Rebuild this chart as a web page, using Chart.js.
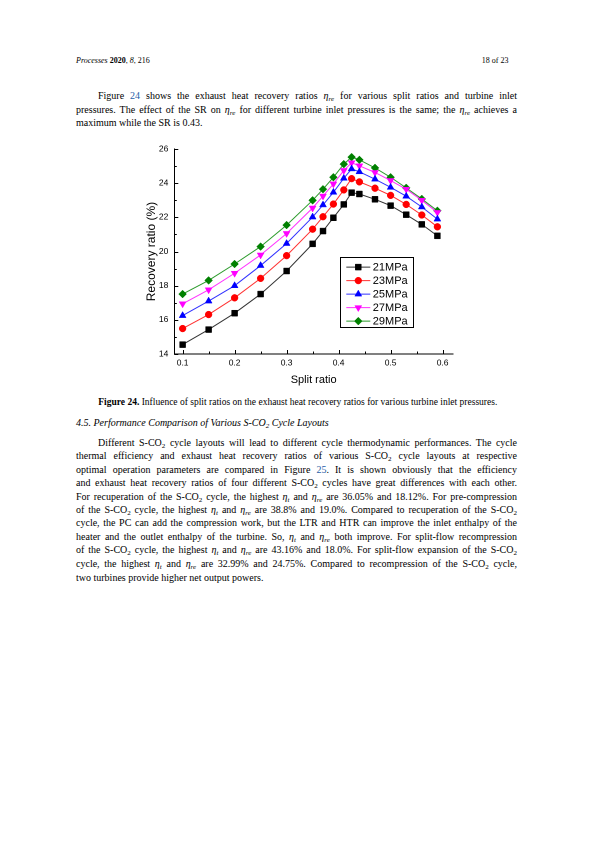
<!DOCTYPE html>
<html>
<head>
<meta charset="utf-8">
<script src="https://cdn.jsdelivr.net/npm/chart.js@4.4.1/dist/chart.umd.min.js"></script>
<style>
  html, body { margin: 0; padding: 0; background: #fff; }
  #page { position: relative; width: 595px; height: 842px; overflow: hidden; background: #fff; color: #000;
          font-family: "Liberation Serif", "Times New Roman", serif; }
  .ln { position: absolute; white-space: nowrap; font-size: 10px; line-height: 13px; }
  .j { text-align: justify; text-align-last: justify; }
  .hdr { position: absolute; font-size: 8px; line-height: 10px; white-space: nowrap; }
  .lk { color: #1f5ea8; }
  sub { font-size: 0.7em; line-height: 0; vertical-align: -0.25em; }
  i sub { font-style: italic; }
  #chartBox { position: absolute; left: 130px; top: 138px; width: 340px; height: 252px; }
</style>
</head>
<body>
<div id="page">
  <div class="hdr" style="left:76px; top:56px;"><i>Processes</i> <b>2020</b>, <i>8</i>, 216</div>
  <div class="hdr" style="left:460px; width:48.5px; top:56px; text-align:right;">18 of 23</div>

  <div class="ln j" style="left:98px; width:419px; top:89px;">Figure <span class="lk">24</span> shows the exhaust heat recovery ratios <i>η<sub>re</sub></i> for various split ratios and turbine inlet</div>
  <div class="ln j" style="left:76px; width:441px; top:102.5px;">pressures. The effect of the SR on <i>η<sub>re</sub></i> for different turbine inlet pressures is the same; the <i>η<sub>re</sub></i> achieves a</div>
  <div class="ln" style="left:76px; top:116px;">maximum while the SR is 0.43.</div>

  <div id="chartBox"><canvas id="c"></canvas></div>

  <div class="ln j" style="left:98.3px; width:399px; top:396px; font-size:9.5px;"><b>Figure 24.</b> Influence of split ratios on the exhaust heat recovery ratios for various turbine inlet pressures.</div>
  <div class="ln" style="left:76px; top:415.5px;"><i>4.5. Performance Comparison of Various S-CO<sub>2</sub> Cycle Layouts</i></div>

  <div class="ln j" style="left:98px; width:419px; top:436px;">Different S-CO<sub>2</sub> cycle layouts will lead to different cycle thermodynamic performances. The cycle</div>
  <div class="ln j" style="left:76px; width:441px; top:449.4px;">thermal efficiency and exhaust heat recovery ratios of various S-CO<sub>2</sub> cycle layouts at respective</div>
  <div class="ln j" style="left:76px; width:441px; top:462.8px;">optimal operation parameters are compared in Figure <span class="lk">25</span>. It is shown obviously that the efficiency</div>
  <div class="ln j" style="left:76px; width:441px; top:476.2px;">and exhaust heat recovery ratios of four different S-CO<sub>2</sub> cycles have great differences with each other.</div>
  <div class="ln j" style="left:76px; width:441px; top:489.6px;">For recuperation of the S-CO<sub>2</sub> cycle, the highest <i>η<sub>t</sub></i> and <i>η<sub>re</sub></i> are 36.05% and 18.12%. For pre-compression</div>
  <div class="ln j" style="left:76px; width:441px; top:503px;">of the S-CO<sub>2</sub> cycle, the highest <i>η<sub>t</sub></i> and <i>η<sub>re</sub></i> are 38.8% and 19.0%. Compared to recuperation of the S-CO<sub>2</sub></div>
  <div class="ln j" style="left:76px; width:441px; top:516.4px;">cycle, the PC can add the compression work, but the LTR and HTR can improve the inlet enthalpy of the</div>
  <div class="ln j" style="left:76px; width:441px; top:529.8px;">heater and the outlet enthalpy of the turbine. So, <i>η<sub>t</sub></i> and <i>η<sub>re</sub></i> both improve. For split-flow recompression</div>
  <div class="ln j" style="left:76px; width:441px; top:543.2px;">of the S-CO<sub>2</sub> cycle, the highest <i>η<sub>t</sub></i> and <i>η<sub>re</sub></i> are 43.16% and 18.0%. For split-flow expansion of the S-CO<sub>2</sub></div>
  <div class="ln j" style="left:76px; width:441px; top:556.6px;">cycle, the highest <i>η<sub>t</sub></i> and <i>η<sub>re</sub></i> are 32.99% and 24.75%. Compared to recompression of the S-CO<sub>2</sub> cycle,</div>
  <div class="ln" style="left:76px; top:570.6px;">two turbines provide higher net output powers.</div>
</div>

<script>
// ---- data ----
const splitRatios = [0.1, 0.15, 0.2, 0.25, 0.3, 0.35, 0.37, 0.39, 0.41, 0.425, 0.44, 0.47, 0.5, 0.53, 0.56, 0.59];
const seriesNames = ['21MPa', '23MPa', '25MPa', '27MPa', '29MPa'];
const rec21 = [14.55, 15.43, 16.39, 17.51, 18.86, 20.45, 21.20, 21.98, 22.76, 23.45, 23.37, 23.06, 22.69, 22.16, 21.59, 20.92];
const rec23 = [15.49, 16.31, 17.29, 18.43, 19.76, 21.31, 22.04, 22.78, 23.61, 24.27, 24.08, 23.71, 23.29, 22.76, 22.14, 21.45];
const rec25 = [16.25, 17.10, 18.00, 19.18, 20.47, 22.02, 22.73, 23.47, 24.29, 24.84, 24.67, 24.24, 23.76, 23.24, 22.61, 21.90];
const rec27 = [16.94, 17.76, 18.73, 19.80, 21.06, 22.55, 23.25, 23.96, 24.75, 25.20, 25.02, 24.63, 24.16, 23.65, 23.00, 22.29];
const rec29 = [17.51, 18.31, 19.27, 20.29, 21.55, 23.00, 23.65, 24.35, 25.12, 25.53, 25.37, 24.90, 24.35, 23.73, 23.08, 22.39];
const xMajorTicks = [0.1, 0.2, 0.3, 0.4, 0.5, 0.6];
const xMinorTicks = [0.15, 0.25, 0.35, 0.45, 0.55];
const yMajorTicks = [14, 16, 18, 20, 22, 24, 26];
const yMinorTicks = [15, 17, 19, 21, 23, 25];
const xTitle = 'Split ratio';
const yTitle = 'Recovery ratio (%)';

// ---- styles ----
const seriesValues = [rec21, rec23, rec25, rec27, rec29];
const colors = ['#000000', '#ff0000', '#0000ff', '#ff00ff', '#008000'];
const lineColors = ['#333333', '#ff3030', '#3030ff', '#ff30ff', '#2a9a2a'];
const pStyles = ['rect', 'circle', 'triangle', 'triangle', 'rectRot'];
const pRot = [0, 0, 0, 180, 0];
const pRad = [4.2, 3.4, 4.0, 4.0, 3.9];
const sansFont = '"Liberation Sans", Arial, sans-serif';

const datasets = seriesNames.map((name, i) => ({
  label: name,
  data: splitRatios.map((x, k) => ({ x: x, y: seriesValues[i][k] })),
  borderColor: lineColors[i],
  backgroundColor: colors[i],
  pointBackgroundColor: colors[i],
  pointBorderColor: colors[i],
  pointBorderWidth: 0.5,
  borderWidth: 1,
  pointStyle: pStyles[i],
  pointRotation: pRot[i],
  pointRadius: pRad[i],
  tension: 0,
  fill: false
}));

// tick marks (inward) drawn through the scales
const tickPlugin = {
  id: 'inTicks',
  afterDatasetsDraw(chart) {
    const ctx = chart.ctx, xs = chart.scales.x, ys = chart.scales.y, ca = chart.chartArea;
    ctx.save();
    ctx.strokeStyle = '#000';
    ctx.lineWidth = 1;
    ctx.beginPath();
    xMajorTicks.forEach(v => { const p = Math.round(xs.getPixelForValue(v)) + 0.5; ctx.moveTo(p, ca.bottom); ctx.lineTo(p, ca.bottom - 4); });
    xMinorTicks.forEach(v => { const p = Math.round(xs.getPixelForValue(v)) + 0.5; ctx.moveTo(p, ca.bottom); ctx.lineTo(p, ca.bottom - 2.5); });
    yMajorTicks.forEach(v => { const p = Math.round(ys.getPixelForValue(v)) + 0.5; ctx.moveTo(ca.left, p); ctx.lineTo(ca.left + 4, p); });
    yMinorTicks.forEach(v => { const p = Math.round(ys.getPixelForValue(v)) + 0.5; ctx.moveTo(ca.left, p); ctx.lineTo(ca.left + 2.5, p); });
    ctx.stroke();
    ctx.restore();
  }
};

// boxed legend inside the plot
const boxLegend = {
  id: 'boxLegend',
  afterDraw(chart) {
    const ctx = chart.ctx, ca = chart.chartArea;
    const bx = ca.left + 166, by = ca.top + 108, bw = 73, bh = 70;
    const rowH = 13.5;
    ctx.save();
    ctx.strokeStyle = '#000';
    ctx.lineWidth = 1;
    ctx.strokeRect(Math.round(bx) + 0.5, Math.round(by) + 0.5, bw, bh);
    chart.data.datasets.forEach((ds, i) => {
      const cy = by + 10 + i * rowH;
      ctx.strokeStyle = ds.borderColor;
      ctx.lineWidth = 1;
      ctx.beginPath();
      ctx.moveTo(bx + 6, cy); ctx.lineTo(bx + 30, cy);
      ctx.stroke();
      ctx.fillStyle = ds.pointBackgroundColor;
      ctx.strokeStyle = ds.pointBorderColor;
      ctx.lineWidth = 0.5;
      Chart.helpers.drawPoint(ctx, { pointStyle: ds.pointStyle, radius: ds.pointRadius, rotation: ds.pointRotation, borderWidth: 0.5 }, bx + 18, cy);
      ctx.fillStyle = '#000';
      ctx.font = '11px ' + sansFont;
      ctx.textBaseline = 'middle';
      ctx.textAlign = 'left';
      ctx.fillText(ds.label, bx + 32.5, cy + 0.5);
    });
    ctx.restore();
  }
};

new Chart(document.getElementById('c'), {
  type: 'line',
  data: { datasets: datasets },
  plugins: [tickPlugin, boxLegend],
  options: {
    responsive: true,
    maintainAspectRatio: false,
    animation: false,
    devicePixelRatio: 2,
    layout: { padding: { top: 10.3, right: 17, left: 0, bottom: 0 } },
    plugins: { legend: { display: false }, tooltip: { enabled: false } },
    scales: {
      x: {
        type: 'linear', min: 0.084, max: 0.62,
        afterBuildTicks: s => { s.ticks = xMajorTicks.map(v => ({ value: v })); },
        afterFit: s => { s.height = 36; },
        ticks: { callback: v => Number(v).toFixed(1), color: '#000', padding: 4, font: { family: sansFont, size: 8.5 }, maxRotation: 0, autoSkip: false },
        grid: { display: true, drawOnChartArea: false, drawTicks: false },
        border: { display: true, color: '#000', width: 1 },
        title: { display: true, text: xTitle, color: '#000', font: { family: sansFont, size: 11 }, padding: { top: 0, bottom: 3.4 } }
      },
      y: {
        type: 'linear', min: 14, max: 26,
        afterBuildTicks: s => { s.ticks = yMajorTicks.map(v => ({ value: v })); },
        afterFit: s => { s.width = 44.3; },
        ticks: { color: '#000', padding: 6, font: { family: sansFont, size: 8.5 }, autoSkip: false },
        grid: { display: true, drawOnChartArea: false, drawTicks: false },
        border: { display: true, color: '#000', width: 1 },
        title: { display: true, text: yTitle, color: '#000', font: { family: sansFont, size: 12 }, padding: { top: 14.5, bottom: 0 } }
      }
    }
  }
});
</script>
</body>
</html>
